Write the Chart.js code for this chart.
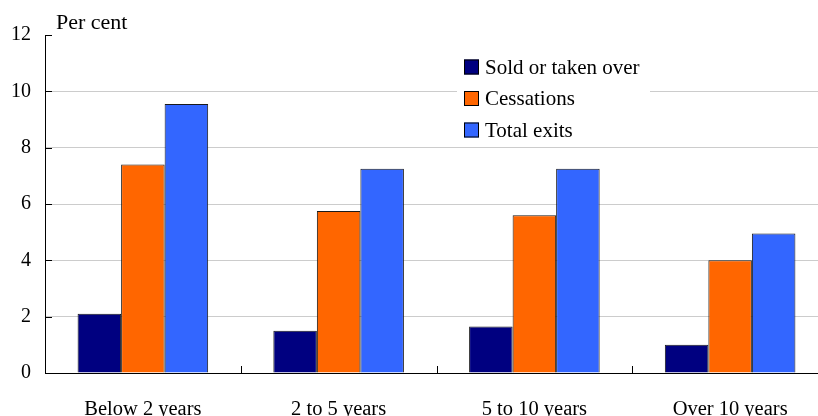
<!DOCTYPE html>
<html>
<head>
<meta charset="utf-8">
<script src="https://cdn.jsdelivr.net/npm/chart.js@4.4.1/dist/chart.umd.min.js"></script>
<style>
html, body { margin: 0; padding: 0; background: #fff; overflow: hidden; }
#wrap { width: 830px; height: 416px; }
</style>
</head>
<body>
<div id="wrap"><canvas id="exitChart"></canvas></div>
<script>
// Data
const categories = ['Below 2 years', '2 to 5 years', '5 to 10 years', 'Over 10 years'];
const soldOrTakenOver = [2.1, 1.5, 1.65, 1.0];
const cessations = [7.4, 5.75, 5.6, 4.0];
const totalExits = [9.55, 7.25, 7.25, 4.95];
const yTicks = [0, 2, 4, 6, 8, 10, 12];
const unitLabel = 'Per cent';

const serif = "'Liberation Serif', 'Times New Roman', serif";

// Short inward tick marks, unit label and the boxed legend
const extras = {
    id: 'extras',
    beforeDatasetsDraw(chart) {
        const ctx = chart.ctx;
        ctx.save();
        ctx.fillStyle = '#fff';
        ctx.fillRect(457, 52, 193, 94);
        ctx.restore();
    },
    afterDraw(chart) {
        const ctx = chart.ctx;
        const area = chart.chartArea;
        const x = chart.scales.x;
        const y = chart.scales.y;
        ctx.save();
        ctx.strokeStyle = '#000';
        ctx.lineWidth = 1;
        ctx.beginPath();
        yTicks.forEach(v => {
            const py = Math.round(y.getPixelForValue(v)) + 0.5;
            ctx.moveTo(area.left, py);
            ctx.lineTo(area.left + 7, py);
        });
        for (let i = 0; i < categories.length - 1; i++) {
            const px = Math.round((x.getPixelForTick(i) + x.getPixelForTick(i + 1)) / 2) + 0.5;
            ctx.moveTo(px, area.bottom);
            ctx.lineTo(px, area.bottom - 7);
        }
        ctx.stroke();

        ctx.fillStyle = '#000';
        ctx.font = '22px ' + serif;
        ctx.textBaseline = 'middle';
        ctx.textAlign = 'left';
        ctx.fillText(unitLabel, 56, 23);

        ctx.font = '21px ' + serif;
        chart.data.datasets.forEach((ds, i) => {
            const cy = 67 + i * 31.5;
            ctx.fillStyle = ds.backgroundColor;
            ctx.fillRect(464, cy - 7.5, 15, 15);
            ctx.strokeStyle = '#000';
            ctx.strokeRect(464.5, cy - 7, 14, 14);
            ctx.fillStyle = '#000';
            ctx.fillText(ds.label, 485, cy + 1);
        });
        ctx.restore();
    }
};

new Chart(document.getElementById('exitChart').getContext('2d'), {
    type: 'bar',
    data: {
        labels: categories,
        datasets: [
            { label: 'Sold or taken over', data: soldOrTakenOver, backgroundColor: '#000080' },
            { label: 'Cessations', data: cessations, backgroundColor: '#ff6600' },
            { label: 'Total exits', data: totalExits, backgroundColor: '#3366ff' }
        ]
    },
    options: {
        responsive: true,
        maintainAspectRatio: false,
        animation: false,
        events: [],
        layout: { padding: { top: 35, right: 2, bottom: 0, left: 0 } },
        datasets: {
            bar: {
                categoryPercentage: 0.667,
                barPercentage: 1,
                borderColor: '#1a1a1a',
                borderWidth: 1
            }
        },
        plugins: {
            legend: { display: false },
            tooltip: { enabled: false }
        },
        scales: {
            x: {
                grid: { display: false },
                border: { color: '#000', width: 1 },
                ticks: { color: '#000', font: { family: serif, size: 20.5 }, padding: 16, maxRotation: 0 },
                afterFit(scale) { scale.height = 43; }
            },
            y: {
                min: 0,
                max: 12,
                afterBuildTicks(scale) { scale.ticks = yTicks.map(v => ({ value: v })); },
                grid: {
                    color: c => (c.tick && c.tick.value === 12) ? 'rgba(0,0,0,0)' : '#cccccc',
                    drawTicks: false
                },
                border: { color: '#000', width: 1 },
                ticks: { color: '#000', font: { family: serif, size: 20 }, padding: 14 },
                afterFit(scale) { scale.width = 45; }
            }
        }
    },
    plugins: [extras]
});
</script>
</body>
</html>
